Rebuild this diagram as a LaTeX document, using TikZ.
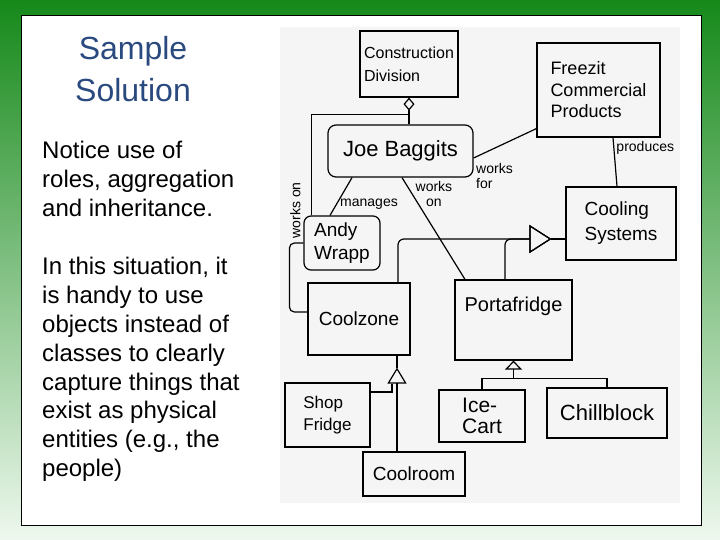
\documentclass[tikz,border=0pt]{standalone}
\usepackage{fontspec}
\setmainfont{Liberation Sans}
\usetikzlibrary{arrows.meta}
\definecolor{SlideGreenTop}{HTML}{16891A}
\definecolor{SlideGreenMid}{HTML}{52B252}
\definecolor{SlideGreenLow}{HTML}{EEF8EE}
\definecolor{TitleBlue}{HTML}{2A4A7F}
\definecolor{SketchGray}{HTML}{F5F5F5}
\newcommand\setfs[2]{\fontsize{#1}{#2}\selectfont}

\begin{document}
\begin{tikzpicture}[x=1pt,y=-1pt,
  box/.style={draw,line width=1.2pt,inner sep=2pt,align=left},
  person/.style={box,rounded corners=8pt},
  lbl/.style={font=\setfs{14}{15},inner sep=1pt},
  conn/.style={line width=1.2pt},
  aggr/.style={conn,-{Diamond[open,length=13pt,width=11pt]}},
  gen/.style={conn,rounded corners=6pt,-{Triangle[open,length=22pt,width=28pt]}},
  gensmall/.style={conn,-{Triangle[open,length=9pt,width=17pt]}}]
  \useasboundingbox (0,0) rectangle (720,540);
  \shade[top color=SlideGreenTop,middle color=SlideGreenMid,bottom color=SlideGreenLow] (0,0) rectangle (720,540);
  \draw[fill=white,line width=1pt] (21,16) rectangle (701,525);
  \fill[SketchGray] (280,27) rectangle (680,503);
  \node[font=\setfs{32}{36},text=TitleBlue,anchor=base] (title1) at (133,60) {Sample};
  \node[font=\setfs{32}{36},text=TitleBlue,anchor=base] (title2) at (133,102) {Solution};
  \foreach \t/\y [count=\i] in {Notice use of/159,{roles, aggregation}/188,and inheritance./217,{In this situation, it}/274,is handy to use/303,objects instead of/332,classes to clearly/361,capture things that/390,exist as physical/418,{entities (e.g., the}/447,people)/476}
    \node[font=\setfs{24}{29},anchor=base west,inner sep=0pt] (note\i) at (42,\y) {\t};

  \node[box,minimum width=98pt,minimum height=66pt,font=\setfs{16}{23}] (conDiv) at (409,64) {Construction\\Division};
  \node[box,minimum width=123pt,minimum height=94pt,font=\setfs{18}{21.5}] (freezit) at (598.5,90) {Freezit\\Commercial\\Products};
  \node[person,minimum width=145pt,minimum height=52pt,font=\setfs{22}{26}] (joe) at (400.5,151) {Joe Baggits};
  \node[person,rounded corners=7pt,minimum width=76pt,minimum height=54pt,font=\setfs{19}{23}] (andy) at (342,243) {Andy\\Wrapp};
  \node[box,minimum width=110pt,minimum height=73pt,font=\setfs{19}{25}] (cooling) at (621,223.5) {Cooling\\Systems};
  \node[box,minimum width=102pt,minimum height=72pt,font=\setfs{19}{23}] (coolzone) at (359,319) {Coolzone};
  \node[box,minimum width=117pt,minimum height=80pt,font=\setfs{20}{24}] (porta) at (513.5,320) {\raisebox{9pt}[0pt][0pt]{Portafridge}};
  \node[box,minimum width=86pt,minimum height=52pt,font=\setfs{21}{21}] (icecart) at (482,416) {Ice-\\Cart};
  \node[box,minimum width=120pt,minimum height=50pt,font=\setfs{22}{26}] (chill) at (607,413) {Chillblock};
  \node[box,minimum width=85pt,minimum height=64pt,font=\setfs{17}{22}] (shop) at (327.5,415) {Shop\\Fridge};
  \node[box,minimum width=102pt,minimum height=44pt,font=\setfs{19}{23}] (coolroom) at (414,474) {Coolroom};

  \coordinate (aggJoin) at ([yshift=10pt]joe.north -| conDiv.south);
  \draw[aggr] (joe.north -| conDiv.south) -- (conDiv.south);
  \draw[conn] ([xshift=8pt]andy.north west) |- (aggJoin);
  \draw[conn] ([xshift=-48.5pt]joe.south) -- node[lbl,pos=.7,anchor=west,xshift=2pt] (managesLbl) {manages} ([xshift=-12pt]andy.north);
  \draw[conn] ([xshift=1.5pt]joe.south) -- node[lbl,pos=.16,anchor=west,align=center,xshift=2pt] (worksOnLbl) {works\\on} ([xshift=-48.5pt]porta.north);
  \draw[conn] ([yshift=-7pt]joe.east) -- node[lbl,pos=0,anchor=north west,align=left,xshift=1pt,yshift=-4pt] (worksForLbl) {works\\for} ([yshift=9pt]freezit.south west);
  \draw[conn] ([xshift=14.5pt]freezit.south) -- node[lbl,pos=.22,anchor=west,xshift=1pt] (producesLbl) {produces} ([xshift=-4pt]cooling.north);
  \draw[conn,rounded corners=5pt] (andy.west) -- ++(-14pt,0) |- ([yshift=7pt]coolzone.west);
  \node[lbl,rotate=90] (worksOnAndy) at ([xshift=-8pt,yshift=5pt]andy.north west) {works on};

  \coordinate (genTip) at ([xshift=-14pt,yshift=-15.5pt]cooling.west);
  \draw[gen] ([xshift=39pt]coolzone.north) |- (genTip);
  \draw[gen] ([xshift=-8.5pt]porta.north) |- (genTip);
  \draw[conn] (genTip) -- ([yshift=-15.5pt]cooling.west);

  \coordinate (portaJoin) at ([yshift=-18pt]porta.south);
  \draw[conn] (icecart.north) |- (portaJoin);
  \draw[conn] (chill.north) |- (portaJoin);
  \draw[gensmall] (portaJoin) -- (porta.south);

  \coordinate (czTip) at ([xshift=38pt,yshift=-12pt]coolzone.south);
  \draw[conn] (czTip) -- (czTip |- coolzone.south);
  \draw[conn,-{Triangle[open,length=16pt,width=19pt]}] (coolroom.north -| czTip) -- (czTip);
  \draw[conn] ([yshift=23pt]shop.east) -| ([xshift=-5pt,yshift=-16pt]czTip);
\end{tikzpicture}
\end{document}
